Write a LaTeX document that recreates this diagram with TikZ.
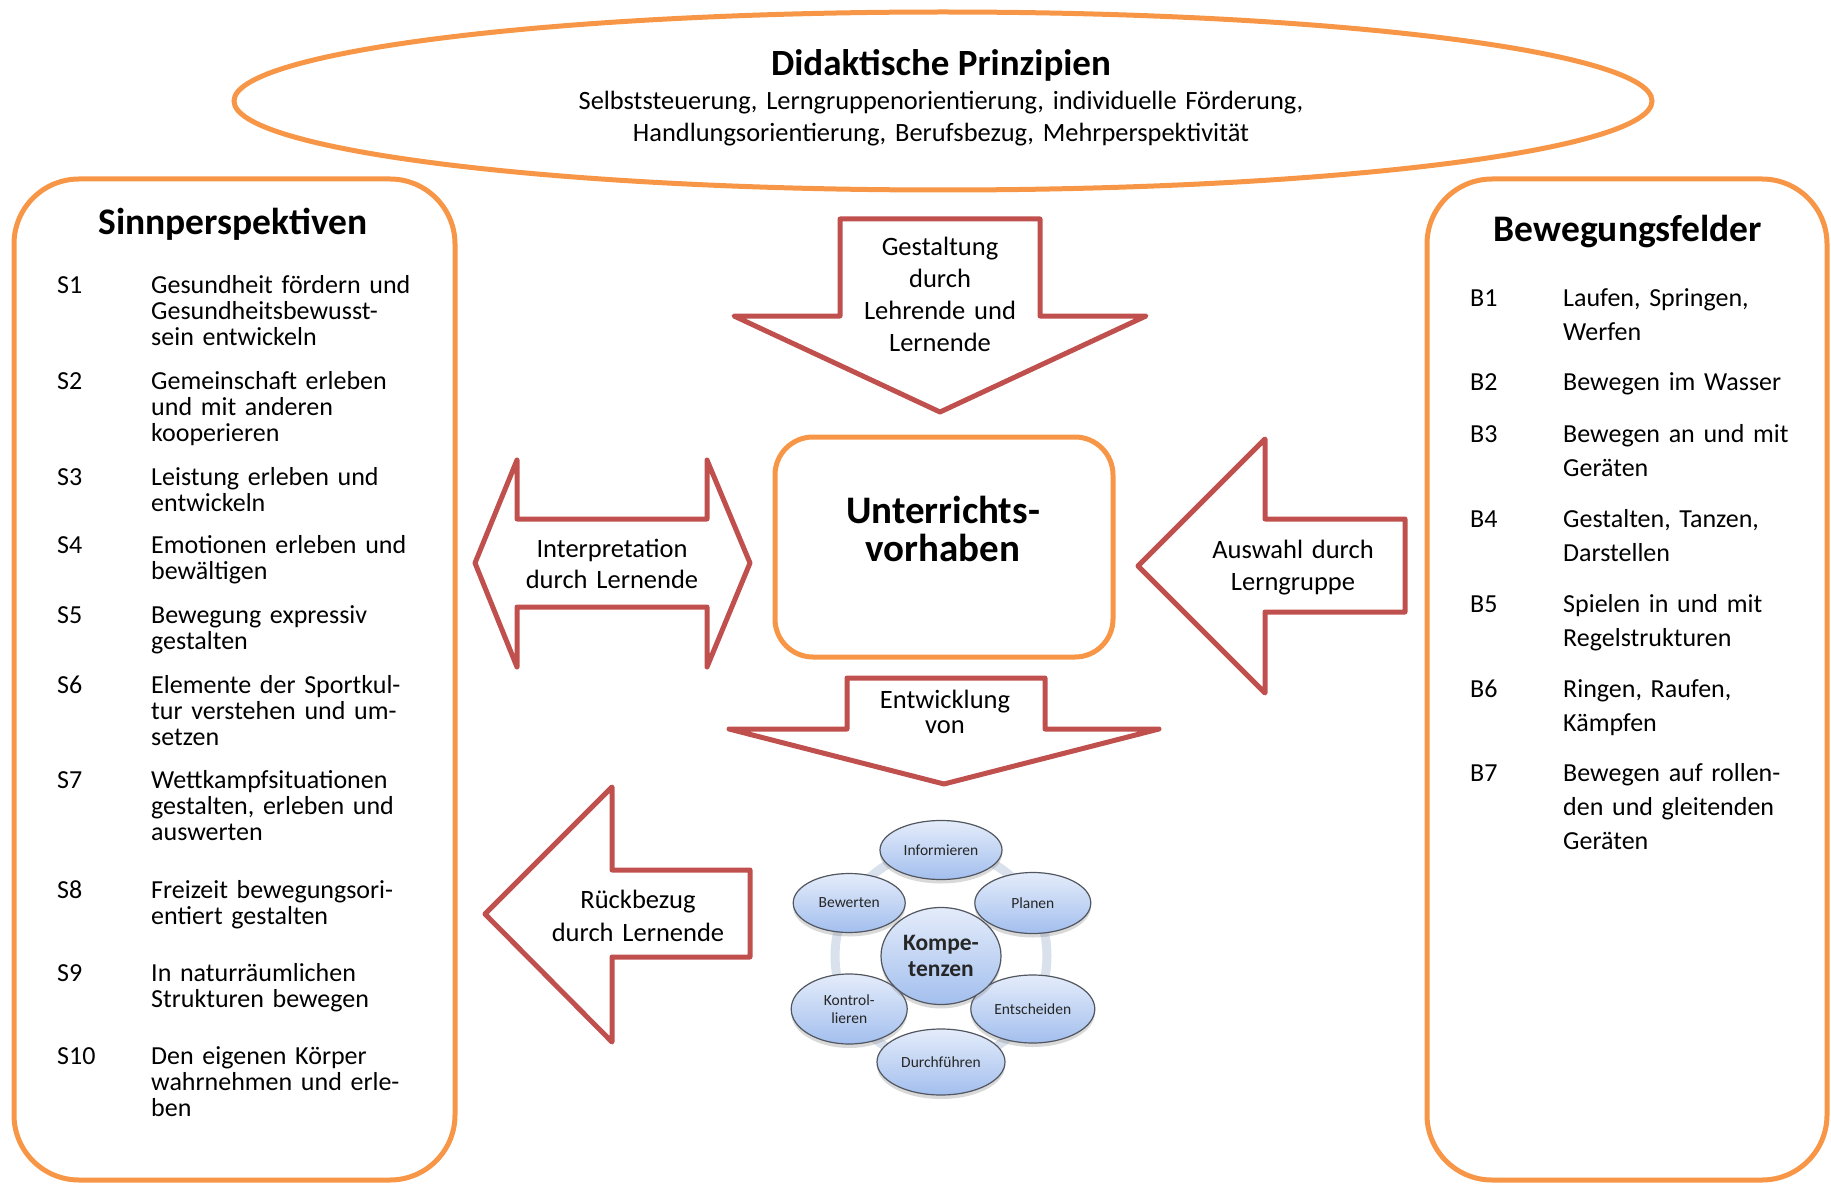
\documentclass[tikz,border=0pt]{standalone}
\usepackage{fontspec}
\setmainfont{Carlito}
\usetikzlibrary{shapes.geometric,shadows,calc}

\definecolor{prinzOrange}{HTML}{F79646}
\definecolor{pfeilRot}{HTML}{C0504D}
\definecolor{kompOben}{HTML}{E4ECFA}
\definecolor{kompUnten}{HTML}{A3BFEE}
\definecolor{kompRand}{HTML}{51565F}
\definecolor{kompRing}{HTML}{D9E1ED}

\tikzset{
  orangeline/.style={draw=prinzOrange, line width=5pt},
  redarrow/.style={draw=pfeilRot, line width=5pt, line join=round, fill=white},
  arrowtext/.style={font=\fontsize{26.5}{32}\selectfont, align=center, text width=220pt, anchor=base, inner sep=0pt},
  listlab/.style={font=\fontsize{26}{26.3}\selectfont, anchor=base west, inner sep=0pt},
  listtxt/.style={font=\fontsize{26}{26.3}\selectfont, align=left, text width=300pt, anchor=base west, inner sep=0pt},
  headline/.style={font=\fontsize{37.5}{40}\selectfont\bfseries, anchor=base, inner sep=0pt},
  kompsat/.style={ellipse, draw=kompRand, line width=1.2pt, top color=kompOben, bottom color=kompUnten,
    drop shadow={shadow xshift=0pt, shadow yshift=-4pt, opacity=0.3}, inner sep=0pt,
    font=\fontsize{15.5}{18}\selectfont, align=center, text=black!85}
}

\begin{document}
\begin{tikzpicture}[x=1pt, y=-1pt]
	\useasboundingbox (0,0) rectangle (1831,1185);
	\def\mySinn{S1/293/{Gesundheit fördern und\\Gesundheitsbewusst-\\sein entwickeln},
		S2/389/{Gemeinschaft erleben\\und mit anderen\\kooperieren},
		S3/485/{Leistung erleben und\\entwickeln},
		S4/553/{Emotionen erleben und\\bewältigen},
		S5/623/{Bewegung expressiv\\gestalten},
		S6/693/{Elemente der Sportkul-\\tur verstehen und um-\\setzen},
		S7/788/{Wettkampfsituationen\\gestalten, erleben und\\auswerten},
		S8/898/{Freizeit bewegungsori-\\entiert gestalten},
		S9/981/{In naturräumlichen\\Strukturen bewegen},
		S10/1064/{Den eigenen Körper\\wahrnehmen und erle-\\ben}}
	\def\myFelder{B1/306/{Laufen, Springen,\\Werfen},
		B2/390/{Bewegen im Wasser},
		B3/442/{Bewegen an und mit\\Geräten},
		B4/527/{Gestalten, Tanzen,\\Darstellen},
		B5/612/{Spielen in und mit\\Regelstrukturen},
		B6/697/{Ringen, Raufen,\\Kämpfen},
		B7/781/{Bewegen auf rollen-\\den und gleitenden\\Geräten}}

	% Rahmen
	\draw[orangeline] (943,101) ellipse [x radius=709pt, y radius=89pt];
	\draw[orangeline, rounded corners=65pt] (14,179) rectangle (455,1180);
	\draw[orangeline, rounded corners=65pt] (1427,179) rectangle (1827,1180);
	\node[orangeline, rounded corners=38pt, minimum width=338pt, minimum height=220pt] (vorhaben) at (944,547) {};

	\node[headline, font=\fontsize{37}{40}\selectfont\bfseries] (didaktik) at (941,76) {Didaktische Prinzipien};
	\node[font=\fontsize{26.4}{32}\selectfont, align=center, text width=900pt, anchor=base, inner sep=0pt] (prinzipien) at (941,110)
		{Selbststeuerung, Lerngruppenorientierung, individuelle Förderung,\\Handlungsorientierung, Berufsbezug, Mehrperspektivität};
	\node[headline] (sinn) at (233,235) {Sinnperspektiven};
	\node[headline] (felder) at (1628,241) {Bewegungsfelder};
	\node[font=\fontsize{39}{38}\selectfont\bfseries, align=center, text width=300pt, anchor=base, inner sep=0pt] (vorhabentxt) at (943,523) {Unterrichts-\\vorhaben};

	% Listen
	\foreach \lab/\ypos/\txt in \mySinn {
		\node[listlab] (\lab) at (57,\ypos) {\lab};
		\node[listtxt] (\lab txt) at (151,\ypos) {\txt};
	}
	\foreach \lab/\ypos/\txt in \myFelder {
		\node[listlab] (\lab) at (1470,\ypos) {\lab};
		\node[listtxt, font=\fontsize{26}{34}\selectfont] (\lab txt) at (1563,\ypos) {\txt};
	}

	% Pfeile
	\draw[redarrow] (840,219) -- (1040,219) -- (1040,316) -- (1146,316) -- (940,412) -- (734,316) -- (840,316) -- cycle;
	\draw[redarrow] (475,563) -- (517,460) -- (517,519) -- (707,519) -- (707,460) -- (750,563) -- (707,667) -- (707,607) -- (517,607) -- (517,667) -- cycle;
	\draw[redarrow] (1138,566) -- (1265,439) -- (1265,519) -- (1405,519) -- (1405,612) -- (1265,612) -- (1265,693) -- cycle;
	\draw[redarrow] (847,678) -- (1045,678) -- (1045,729) -- (1159,729) -- (944,784) -- (729,729) -- (847,729) -- cycle;
	\draw[redarrow] (485,914) -- (612,787) -- (612,870) -- (750,870) -- (750,957) -- (612,957) -- (612,1042) -- cycle;
	\node[arrowtext] (gestaltung) at (940,255) {Gestaltung\\durch\\Lehrende und\\Lernende};
	\node[arrowtext, font=\fontsize{26.5}{31}\selectfont] (interpretation) at (612,557) {Interpretation\\durch Lernende};
	\node[arrowtext] (auswahl) at (1293,558) {Auswahl durch\\Lerngruppe};
	\node[arrowtext, font=\fontsize{26.5}{25.5}\selectfont] (entwicklung) at (945,708) {Entwicklung\\von};
	\node[arrowtext, font=\fontsize{26.5}{33}\selectfont] (rueckbezug) at (638,908) {Rückbezug\\durch Lernende};

	% Kompetenzen
	\coordinate (kompMitte) at (941,956);
	\draw[kompRing, line width=9pt] (kompMitte) circle [radius=106pt];
	\foreach \name/\winkel/\w/\h/\txt in {info/90/122/59/Informieren, plan/30/116/61/Planen, ents/-30/124/68/Entscheiden,
		durch/-90/128/66/Durchführen, kontr/-150/116/70/{Kontrol-\\lieren}, bew/150/112/59/Bewerten}
		\node[kompsat, minimum width=\w pt, minimum height=\h pt] (\name) at ($(kompMitte)+(\winkel:106pt)$) {\txt};
	\node[kompsat, minimum width=120pt, minimum height=97pt, font=\fontsize{23.5}{26}\selectfont\bfseries] (komp) at (kompMitte) {Kompe-\\tenzen};
\end{tikzpicture}
\end{document}
